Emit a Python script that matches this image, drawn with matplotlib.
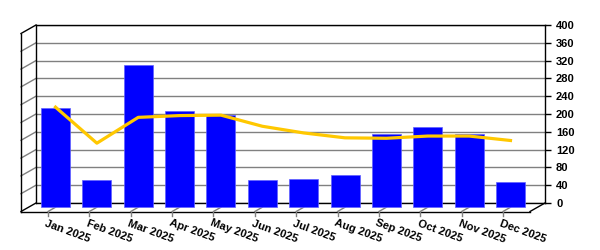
import matplotlib
matplotlib.use('Agg')
import matplotlib.pyplot as plt
import matplotlib.transforms as mtrans

months = ['Jan 2025', 'Feb 2025', 'Mar 2025', 'Apr 2025', 'May 2025', 'Jun 2025',
          'Jul 2025', 'Aug 2025', 'Sep 2025', 'Oct 2025', 'Nov 2025', 'Dec 2025']
bar_values = [223, 61, 320, 216, 207, 61, 63, 72, 165, 180, 165, 57]
line_values = [225, 144, 202, 206, 207, 182, 167, 156, 155, 160, 160, 150]
yticks = list(range(0, 401, 40))

DPI = 100
DX, DY = -15, -8.5          # depth offset in pixels (front plane)
font = dict(family=['Liberation Sans', 'DejaVu Sans'], weight='bold', size=8)

fig = plt.figure(figsize=(6, 2.5), dpi=DPI)
ax = fig.add_axes([36 / 600, 47 / 250, 509 / 600, 178 / 250])
ax.set_xlim(-0.653, 11.653)
ax.set_ylim(0, 400)
ax.set_xticks([])
ax.set_yticks(yticks)
ax.yaxis.tick_right()
ax.tick_params(axis='y', length=4, width=1, pad=4, colors='black')
for lab in ax.get_yticklabels():
    lab.set_fontfamily(font['family'])
    lab.set_fontweight('bold')
    lab.set_fontsize(8)
for s in ax.spines.values():
    s.set_color('black')
    s.set_linewidth(1)
ax.set_axisbelow(True)
ax.yaxis.grid(True, color='#808080', linewidth=1)


def shift(dx, dy):
    return ax.transData + mtrans.ScaledTranslation(dx / DPI, dy / DPI, fig.dpi_scale_trans)


front = shift(DX, DY)
mid = shift(DX / 2, DY / 2)
x0, x1 = ax.get_xlim()

# left wall
for t in yticks:
    c = 'black' if t in (0, 400) else '#808080'
    ax.plot([x0, x0], [t, t], color=c, lw=1, clip_on=False, zorder=1,
            transform=ax.transData)
    p0 = ax.transData.transform((x0, t))
    ax.add_line(plt.Line2D([p0[0], p0[0] + DX], [p0[1], p0[1] + DY], color=c, lw=1,
                           transform=None, clip_on=False, zorder=1))
ax.plot([x0, x0], [0, 400], color='black', lw=1, transform=front, clip_on=False)
ax.plot([x0, x1], [0, 0], color='black', lw=1, transform=front, clip_on=False)
p1 = ax.transData.transform((x1, 0))
ax.add_line(plt.Line2D([p1[0], p1[0] + DX], [p1[1], p1[1] + DY], color='black', lw=1,
                       transform=None, clip_on=False))

# category ticks and labels
xs = list(range(len(months)))
for i, m in enumerate(months):
    pf = ax.transData.transform((i, 0))
    ax.add_line(plt.Line2D([pf[0] + DX, pf[0] + DX], [pf[1] + DY, pf[1] + DY - 4.5],
                           color='#808080', lw=1, transform=None, clip_on=False))
    ax.add_line(plt.Line2D([pf[0] + DX, pf[0] + DX / 2], [pf[1] + DY, pf[1] + DY / 2],
                           color='#808080', lw=1, transform=None, clip_on=False))
    ax.text(i, 0, m, transform=shift(DX - 1, DY - 6.5), rotation=-20,
            rotation_mode='anchor', ha='left', va='top', **font)

ax.bar(xs, bar_values, width=0.70, color='#0000ff', edgecolor='#6060ff', linewidth=0.5,
       transform=mid, clip_on=False, zorder=3)
ax.plot(xs, line_values, color='#ffc800', lw=2.3, transform=mid, clip_on=False, zorder=4)

fig.savefig('out.png', dpi=DPI)
